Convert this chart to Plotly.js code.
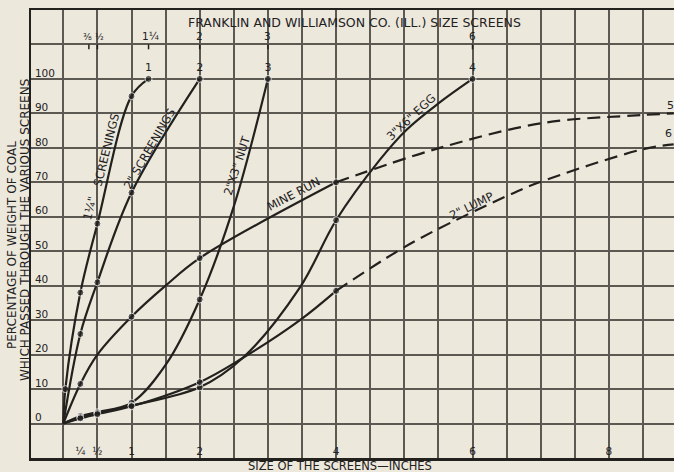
<!DOCTYPE html>
<html>
<head>
<meta charset="utf-8">
<script src="https://cdn.plot.ly/plotly-3.0.1.min.js"></script>
<style>html,body{margin:0;padding:0;background:#ece8db;}#chart{width:674px;height:472px;}</style>
</head>
<body>
<div id="chart"></div>
<script>
// ---- data ----
const screen1X = [0, 0.03, 0.25, 0.5, 1, 1.25];
const screen1Y = [0, 10, 38, 58, 95, 100];
const screen1Dot = [0, 1, 1, 1, 1, 1];

const screen2X = [0, 0.25, 0.5, 1, 2];
const screen2Y = [0, 26, 41, 67, 100];
const screen2Dot = [0, 1, 1, 1, 1];

const nutX = [0, 0.25, 0.5, 1, 1.5, 2, 2.5, 3];
const nutY = [0, 2.2, 3.3, 6, 17, 36, 63, 100];
const nutDot = [0, 1, 1, 1, 0, 1, 0, 1];

const eggX = [0, 0.25, 0.5, 1, 2, 2.63, 3.47, 4, 4.64, 5.03, 5.5, 6];
const eggY = [0, 1.8, 3, 5.2, 10.5, 19, 39.5, 59, 76.5, 85.2, 92.9, 100];
const eggDot = [0, 1, 1, 1, 1, 0, 0, 1, 0, 0, 0, 1];

const mineX = [0, 0.25, 0.5, 1, 1.5, 2, 4];
const mineY = [0, 11.5, 20, 31, 40, 48, 70];
const mineDot = [0, 1, 0, 1, 0, 1, 1];
const mineDashX = [4, 5.47, 7.03, 8.48, 8.95];
const mineDashY = [70, 79.7, 87.2, 89.5, 90];

const lumpX = [0, 0.25, 0.5, 1, 2, 2.63, 3.47, 4];
const lumpY = [0, 1.5, 2.7, 5, 12, 19, 30, 38.5];
const lumpDot = [0, 1, 1, 1, 1, 0, 0, 1];
const lumpDashX = [4, 4.89, 5.42, 6.48, 6.94, 8.5, 8.95];
const lumpDashY = [38.5, 49.9, 55.7, 65.8, 69.7, 79.6, 81];

const endLabels = ["1", "2", "3", "4"];
const yTickVals = [0, 10, 20, 30, 40, 50, 60, 70, 80, 90, 100, 110];
const yTickText = ["0", "10", "20", "30", "40", "50", "60", "70", "80", "90", "100", ""];
const xTickVals = [0.25, 0.5, 1, 2, 4, 6, 8];
const xTickText = ["¼", "½", "1", "2", "4", "6", "8"];
const topTickVals = [0.375, 0.5, 1.25, 2, 3, 6];
const topTickText = ["⅜", "½", "1¼", "2", "3", "6"];

// ---- styling ----
const INK = "#23211e";
const GRID = "#5c5953";
const BG = "#ece8db";
const FONT = "DejaVu Sans";

function curve(x, y, dots, label) {
  return {
    x: x, y: y, type: "scatter", mode: "lines+markers+text",
    line: {color: INK, width: 2.2, shape: "spline", smoothing: 1},
    marker: {color: INK, size: dots.map(d => d ? 7 : 0)},
    text: x.map((v, i) => (i === x.length - 1 && label) ? label : ""),
    textposition: "top center",
    textfont: {family: FONT, size: 11, color: INK},
    cliponaxis: false, hoverinfo: "skip", showlegend: false
  };
}
function dashed(x, y) {
  return {
    x: x, y: y, type: "scatter", mode: "lines",
    line: {color: INK, width: 2.2, shape: "spline", smoothing: 1, dash: "13px,7px"},
    hoverinfo: "skip", showlegend: false
  };
}

const traces = [
  curve(screen1X, screen1Y, screen1Dot, endLabels[0]),
  curve(screen2X, screen2Y, screen2Dot, endLabels[1]),
  curve(nutX, nutY, nutDot, endLabels[2]),
  curve(eggX, eggY, eggDot, endLabels[3]),
  curve(mineX, mineY, mineDot, ""),
  dashed(mineDashX, mineDashY),
  curve(lumpX, lumpY, lumpDot, ""),
  dashed(lumpDashX, lumpDashY)
];

function note(text, x, y, opts) {
  return Object.assign({
    text: text, x: x, y: y, xref: "x", yref: "y", showarrow: false,
    xanchor: "center", yanchor: "middle",
    font: {family: FONT, size: 11.5, color: INK}
  }, opts || {});
}

const annotations = [
  note("FRANKLIN AND WILLIAMSON CO. (ILL.) SIZE SCREENS", 1.8, 116.4, {xanchor: "left", font: {family: FONT, size: 12.5, color: INK}}),
  note("1¼\"", 0.39, 62.5, {textangle: -76}),
  note("SCREENINGS", 0.63, 79.4, {textangle: -76}),
  note("2\" SCREENINGS", 1.26, 79.7, {textangle: -60}),
  note("2\"X3\" NUT", 2.55, 75, {textangle: -72}),
  note("MINE RUN", 3.38, 66.5, {textangle: -28}),
  note("3\"X6\" EGG", 5.1, 89, {textangle: -43}),
  note("2\" LUMP", 5.98, 63, {textangle: -26}),
  note("5", 8.9, 92.3, {font: {family: FONT, size: 11, color: INK}}),
  note("6", 8.87, 84.3, {font: {family: FONT, size: 11, color: INK}}),
  note("SIZE OF THE SCREENS—INCHES", 0.4806, -0.0179, {xref: "paper", yref: "paper", font: {family: FONT, size: 11.5, color: INK}}),
  note("PERCENTAGE OF WEIGHT OF COAL", -0.0296, 0.4754, {xref: "paper", yref: "paper", textangle: -90, font: {family: FONT, size: 12, color: INK}}),
  note("WHICH PASSED THROUGH THE VARIOUS SCREENS", -0.0093, 0.5089, {xref: "paper", yref: "paper", textangle: -90, font: {family: FONT, size: 12, color: INK}})
];
const topTickNudge = [-0.02, 0.025, 0.03, 0, 0, 0];
topTickVals.forEach((v, i) => {
  const small = topTickText[i].length === 1 && isNaN(+topTickText[i]);
  annotations.push(note(topTickText[i], v + topTickNudge[i], 110, {
    yanchor: "bottom", font: {family: FONT, size: small ? 9 : 10.5, color: INK}
  }));
});

const shapes = topTickVals.map(v => ({
  type: "line", xref: "x", yref: "y", x0: v, x1: v, y0: 110, y1: 108.6,
  line: {color: INK, width: 1.5}
}));

const layout = {
  width: 674, height: 472,
  margin: {l: 31, r: 0, t: 10, b: 14, pad: 0},
  paper_bgcolor: BG, plot_bgcolor: BG,
  font: {family: FONT, size: 10, color: INK},
  showlegend: false,
  xaxis: {
    range: [-0.4736, 8.9545], zeroline: false,
    tickmode: "array", tickvals: xTickVals, ticktext: xTickText,
    ticklabelposition: "inside", ticks: "", showgrid: false,
    tickfont: {family: FONT, size: 10.5, color: INK},
    minor: {tickmode: "linear", tick0: 0, dtick: 0.5, showgrid: true, gridcolor: GRID, gridwidth: 2, ticks: ""},
    showline: true, linecolor: INK, linewidth: 2.5, mirror: true
  },
  yaxis: {
    range: [-10, 120], zeroline: false,
    tickmode: "array", tickvals: yTickVals, ticktext: yTickText,
    ticklabelposition: "inside", ticks: "", ticklabelshift: -6, ticklabelstandoff: 3,
    tickfont: {family: FONT, size: 10.5, color: INK},
    showgrid: true, gridcolor: GRID, gridwidth: 2,
    showline: true, linecolor: INK, linewidth: 2.5
  },
  annotations: annotations,
  shapes: shapes
};

Plotly.newPlot("chart", traces, layout, {displayModeBar: false, staticPlot: true});
</script>
</body>
</html>
